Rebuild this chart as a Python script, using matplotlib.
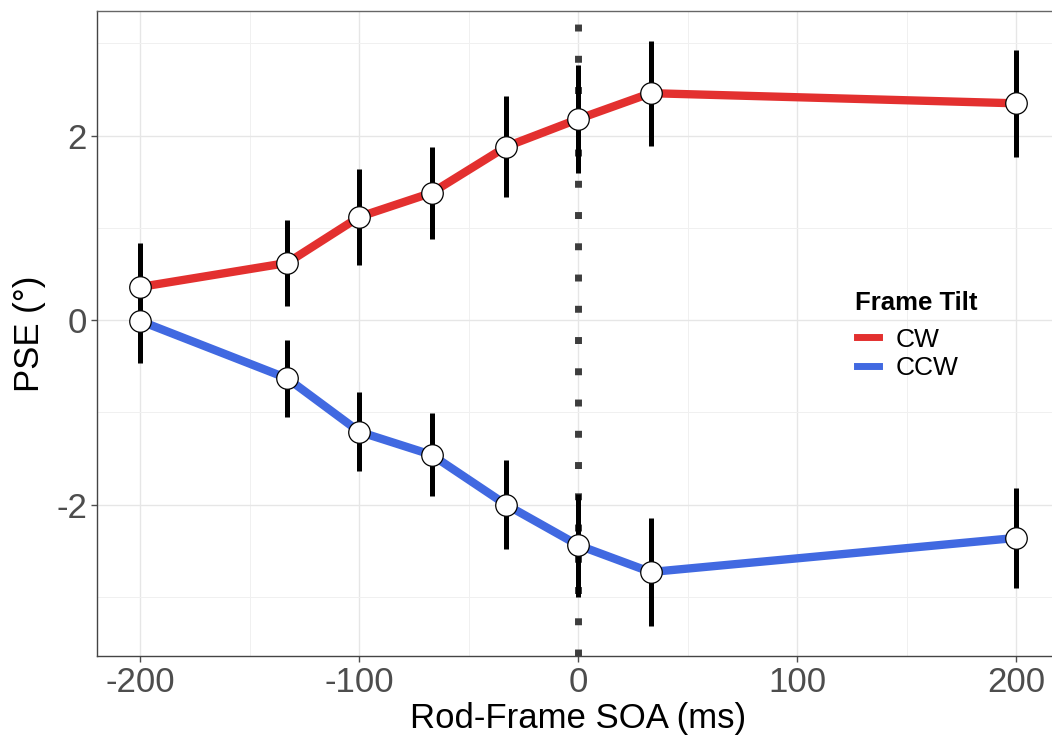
import matplotlib.pyplot as plt
from matplotlib.lines import Line2D

# Rod-frame SOA conditions (ms)
soa = [-200, -133, -100, -67, -33, 0, 33, 200]

# PSE values (deg) and error bar half-widths per frame tilt
pse_cw = [0.36, 0.62, 1.12, 1.38, 1.88, 2.18, 2.46, 2.35]
err_cw = [0.48, 0.47, 0.52, 0.50, 0.55, 0.58, 0.57, 0.58]
pse_ccw = [-0.01, -0.63, -1.21, -1.46, -2.00, -2.44, -2.73, -2.36]
err_ccw = [0.45, 0.42, 0.43, 0.45, 0.48, 0.56, 0.59, 0.54]

series_names = ['CW', 'CCW']
series_colors = ['#E3302F', '#4169E1']

plt.rcParams['font.family'] = ['Liberation Sans', 'DejaVu Sans']

fig = plt.figure(figsize=(10.52, 7.37), dpi=100)
ax = fig.add_axes([0.0919, 0.1099, 0.9157, 0.8751])

# grid
ax.set_xticks([-200, -100, 0, 100, 200])
ax.set_xticks([-150, -50, 50, 150], minor=True)
ax.set_yticks([-2, 0, 2])
ax.set_yticks([-3, -1, 1, 3], minor=True)
ax.grid(which='major', color='#e6e6e6', lw=1.0, zorder=0)
ax.grid(which='minor', color='#f0f0f0', lw=0.7, zorder=0)
ax.set_axisbelow(True)

# vertical dotted line at SOA 0
ax.axvline(0, color='#3d3d3d', lw=5, ls=(0, (1, 3.5)), dash_capstyle='butt', zorder=1)

for pse, err, color in zip([pse_cw, pse_ccw], [err_cw, err_ccw], series_colors):
    ax.plot(soa, pse, color=color, lw=6, solid_capstyle='butt', zorder=2)
    ax.errorbar(soa, pse, yerr=err, fmt='none', ecolor='black', elinewidth=3.6,
                capsize=0, zorder=3)
    ax.plot(soa, pse, 'o', ms=15.5, mfc='white', mec='black', mew=0.9, zorder=4)

ax.set_xlim(-220, 220)
ax.set_ylim(-3.64, 3.35)

for side in ['top', 'right', 'left', 'bottom']:
    ax.spines[side].set_color('#666666')
    ax.spines[side].set_linewidth(1.0)
ax.spines['left'].set_color('#444444')
ax.spines['bottom'].set_color('#444444')

ax.tick_params(which='major', labelsize=25, colors='#4d4d4d', length=4, width=1, pad=3)
ax.tick_params(which='minor', length=0)
ax.set_xticklabels(['-200', '-100', '0', '100', '200'])
ax.set_yticklabels(['-2', '0', '2'])

ax.set_xlabel('Rod-Frame SOA (ms)', fontsize=25, color='black', labelpad=2)
ax.set_ylabel('PSE (°)', fontsize=25, color='black', labelpad=7)

# legend
ax.text(0.787, 0.5364, 'Frame Tilt', transform=ax.transAxes, fontsize=18.5,
        fontweight='bold', ha='left', va='baseline')
handles = [Line2D([], [], color=c, lw=5) for c in series_colors]
ax.legend(handles, series_names, loc='upper left',
          bbox_to_anchor=(0.789, 0.509), frameon=False, fontsize=19,
          handlelength=0.83, handletextpad=0.64, labelspacing=0.16,
          borderaxespad=0, borderpad=0)

fig.savefig('out.png', dpi=100)
